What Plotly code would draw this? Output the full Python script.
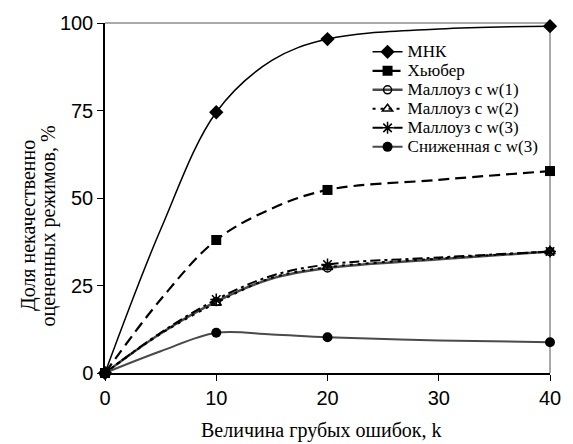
import plotly.graph_objects as go

# ---- data ----
k_values = [0, 5, 10, 15, 20, 30, 40]          # points along each curve
marker_k = [0, 10, 20, 40]                     # points that carry a marker
series_names = ["МНК", "Хьюбер", "Маллоуз с w(1)", "Маллоуз с w(2)",
                "Маллоуз с w(3)", "Сниженная с w(3)"]
mnk = [0, 41.0, 74.5, 89.3, 95.4, 98.3, 99.1]
huber = [0, 21.0, 38.0, 47.0, 52.3, 55.2, 57.7]
mallows_w1 = [0, 11.3, 20.4, 27.0, 30.0, 32.5, 34.7]
mallows_w2 = [0, 11.2, 20.0, 27.2, 30.2, 32.7, 34.7]
mallows_w3 = [0, 11.5, 21.0, 27.8, 31.0, 33.0, 34.7]
reduced_w3 = [0, 6.2, 11.5, 11.0, 10.2, 9.3, 8.8]
x_ticks = [0, 10, 20, 30, 40]
y_ticks = [0, 25, 50, 75, 100]

values = [mnk, huber, mallows_w1, mallows_w2, mallows_w3, reduced_w3]

styles = [
    dict(line=dict(color="black", width=1.5, dash="solid"),
         marker=dict(symbol="diamond", size=11, color="black")),
    dict(line=dict(color="black", width=2.2, dash="11px,6px"),
         marker=dict(symbol="square", size=10, color="black")),
    dict(line=dict(color="#4a4a4a", width=2.5, dash="solid"),
         marker=dict(symbol="circle-open", size=8, color="black",
                     line=dict(width=1.5))),
    dict(line=dict(color="black", width=2, dash="3px,5px"),
         marker=dict(symbol="triangle-up-open", size=9, color="black",
                     line=dict(width=1.5))),
    dict(line=dict(color="black", width=2, dash="10px,4px,3px,4px"),
         marker=dict(symbol="asterisk-open", size=10, color="black",
                     line=dict(width=1.5))),
    dict(line=dict(color="#4a4a4a", width=2, dash="solid"),
         marker=dict(symbol="circle", size=10, color="black")),
]

fig = go.Figure()
# curves through all read points
for name, vals, st in zip(series_names, values, styles):
    line = dict(st["line"])
    line["shape"] = "spline"
    fig.add_trace(go.Scatter(x=k_values, y=vals, mode="lines", line=line,
                             showlegend=False, hoverinfo="skip",
                             cliponaxis=False, legendgroup=name))
# markers at the marked points
for name, vals, st in zip(series_names, values, styles):
    my = [v for k, v in zip(k_values, vals) if k in marker_k]
    fig.add_trace(go.Scatter(x=marker_k, y=my, mode="markers",
                             marker=st["marker"], showlegend=False,
                             cliponaxis=False, name=name, legendgroup=name))
# legend entries (line + marker sample)
for name, st in zip(series_names, styles):
    fig.add_trace(go.Scatter(x=[None], y=[None], mode="lines+markers",
                             name='<span style="font-size:17px">' + name + "</span>",
                             line=st["line"], marker=st["marker"],
                             legendgroup=name))

serif = "'Times New Roman', 'Liberation Serif', 'DejaVu Serif', serif"
sans = "Arial, 'Liberation Sans', sans-serif"

fig.update_layout(
    width=573, height=444,
    margin=dict(l=105, r=14, t=23, b=71),
    paper_bgcolor="white", plot_bgcolor="white",
    showlegend=True,
    legend=dict(x=0.59, y=0.959, xanchor="left", yanchor="top",
                font=dict(family=serif, size=12, color="black"),
                bgcolor="rgba(255,255,255,0)", borderwidth=0,
                tracegroupgap=0),
    xaxis=dict(range=[0, 40], tickvals=x_ticks, ticks="outside", ticklen=6,
               tickcolor="black", showline=True, linecolor="black",
               linewidth=1.5, showgrid=False, zeroline=False,
               tickfont=dict(family=sans, size=20, color="black")),
    yaxis=dict(range=[0, 100], tickvals=y_ticks, ticks="outside", ticklen=6,
               tickcolor="black", showline=True, linecolor="black",
               linewidth=1.5, showgrid=False, zeroline=False,
               tickfont=dict(family=sans, size=20, color="black")),
)

# gray top and right frame lines
fig.add_shape(type="line", xref="paper", yref="paper", x0=0, x1=1, y0=1, y1=1,
              line=dict(color="#8c8c8c", width=1.5), layer="below")
fig.add_shape(type="line", xref="paper", yref="paper", x0=1, x1=1, y0=0, y1=1,
              line=dict(color="#8c8c8c", width=1.5), layer="below")

# axis titles
fig.add_annotation(text="Величина грубых ошибок, k", xref="paper", yref="paper",
                   x=0.487, y=-0.163, xanchor="center", yanchor="middle",
                   showarrow=False, font=dict(family=serif, size=20, color="black"))
fig.add_annotation(text="Доля некачественно", xref="paper", yref="paper",
                   x=-0.173, y=0.42, xanchor="center", yanchor="middle",
                   textangle=-90, showarrow=False,
                   font=dict(family=serif, size=20, color="black"))
fig.add_annotation(text="оцененных режимов, %", xref="paper", yref="paper",
                   x=-0.127, y=0.42, xanchor="center", yanchor="middle",
                   textangle=-90, showarrow=False,
                   font=dict(family=serif, size=20, color="black"))

fig.write_html("out.html")
